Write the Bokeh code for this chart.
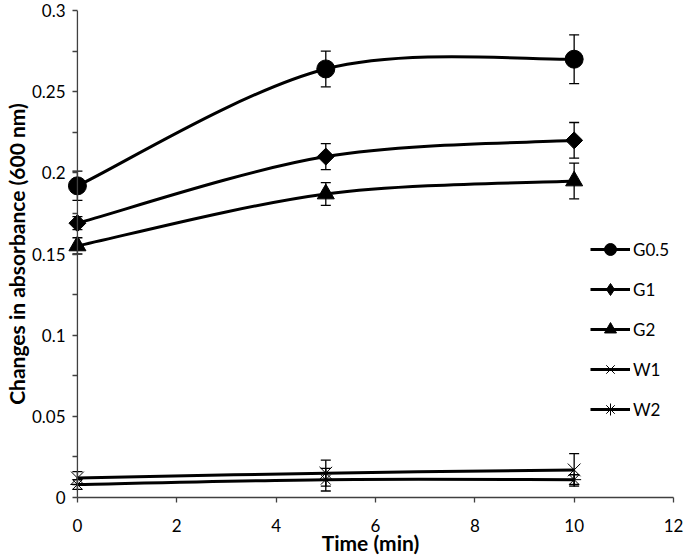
import math
from bokeh.plotting import figure
from bokeh.models import (ColumnDataSource, Whisker, TeeHead, Legend, LegendItem,
                          FixedTicker, Range1d, Span, CDSView, IndexFilter)
from bokeh.embed import file_html
from bokeh.resources import INLINE

# ---- data ----
time = [0, 5, 10]
g05 = [0.192, 0.264, 0.270]
g05_err = [0.009, 0.011, 0.015]
g1 = [0.169, 0.210, 0.220]
g1_err = [0.004, 0.008, 0.011]
g2 = [0.155, 0.187, 0.195]
g2_err = [0.005, 0.007, 0.011]
w1 = [0.012, 0.015, 0.017]
w1_err = [0.004, 0.008, 0.010]
w2 = [0.008, 0.011, 0.011]
w2_err = [0.003, 0.007, 0.003]
names = ["G0.5", "G1", "G2", "W1", "W2"]

x_ticks = [0, 2, 4, 6, 8, 10, 12]
y_ticks = [0, 0.05, 0.1, 0.15, 0.2, 0.25, 0.3]
y_tick_labels = ["0", "0.05", "0.1", "0.15", "0.2", "0.25", "0.3"]
y_minor = [0.025, 0.075, 0.125, 0.175, 0.225, 0.275]
x_title = "Time (min)"
y_title = "Changes in absorbance (600 nm)"

FONT = "Lato"
AX = "#404040"

p = figure(width=685, height=557, output_backend="svg", toolbar_location=None,
           x_range=Range1d(-0.2, 12), y_range=Range1d(0, 0.3),
           min_border_left=66, min_border_right=12, min_border_top=10, min_border_bottom=60)
p.outline_line_color = None
p.xgrid.visible = False
p.ygrid.visible = False
p.background_fill_color = "white"

def smooth(xs, ys):
    # Excel-like smoothed line: Catmull-Rom segments as cubic Beziers
    n = len(xs)
    d = dict(x0=[], y0=[], x1=[], y1=[], cx0=[], cy0=[], cx1=[], cy1=[])
    for i in range(n - 1):
        a = max(i - 1, 0)
        b = min(i + 2, n - 1)
        d["x0"].append(xs[i]); d["y0"].append(ys[i])
        d["x1"].append(xs[i + 1]); d["y1"].append(ys[i + 1])
        d["cx0"].append(xs[i] + (xs[i + 1] - xs[a]) / 6)
        d["cy0"].append(ys[i] + (ys[i + 1] - ys[a]) / 6)
        d["cx1"].append(xs[i + 1] - (xs[b] - xs[i]) / 6)
        d["cy1"].append(ys[i + 1] - (ys[b] - ys[i]) / 6)
    return d

# y axis line at x = 0
p.add_layout(Span(location=0, dimension="height", line_color=AX, line_width=1.3))

series = [
    (names[0], g05, g05_err, "circle", 18, 0.0, "circle"),
    (names[1], g1, g1_err, "square", 12, math.pi / 4, "diamond"),
    (names[2], g2, g2_err, "triangle", 17, 0.0, "triangle"),
    (names[3], w1, w1_err, "x", 18, 0.0, "x"),
    (names[4], w2, w2_err, "asterisk", 14, 0.0, "asterisk"),
]

items = []
for name, vals, err, marker, size, ang, leg_marker in series:
    src = ColumnDataSource(dict(x=time, y=vals,
                                upper=[v + e for v, e in zip(vals, err)],
                                lower=[v - e for v, e in zip(vals, err)]))
    p.bezier(source=ColumnDataSource(smooth(time, vals)), x0="x0", y0="y0", x1="x1", y1="y1",
             cx0="cx0", cy0="cy0", cx1="cx1", cy1="cy1", line_color="black", line_width=3)
    wh = Whisker(base="x", upper="upper", lower="lower", source=src, line_color="black",
                 line_width=1.3,
                 upper_head=TeeHead(size=10, line_color="black", line_width=1.3),
                 lower_head=TeeHead(size=10, line_color="black", line_width=1.3))
    p.add_layout(wh)
    p.scatter("x", "y", source=src, marker=marker, size=size, angle=ang,
              fill_color="black", line_color="black", line_width=1)
    # legend-only swatches (the curve itself is the bezier above)
    lr = p.line("x", "y", source=src, line_color="black", line_width=3,
                view=CDSView(filter=IndexFilter(indices=[0])))
    mr = p.scatter("x", "y", source=src, marker=leg_marker, size=0, fill_color="black",
                   line_color="black", line_width=1,
                   view=CDSView(filter=IndexFilter(indices=[0])))
    items.append(LegendItem(label=name, renderers=[lr, mr]))

legend = Legend(items=items, location=(523, 73), border_line_color=None,
                background_fill_alpha=0, padding=0, margin=0, spacing=10,
                glyph_width=40, glyph_height=30, label_height=30, label_standoff=3,
                label_text_font=FONT, label_text_font_size="17px", label_text_color="black")
p.add_layout(legend)

for ax in (p.xaxis[0], p.yaxis[0]):
    ax.major_tick_line_color = AX
    ax.minor_tick_line_color = AX
    ax.major_tick_line_width = 1.3
    ax.minor_tick_line_width = 1.3
    ax.major_label_text_font = FONT
    ax.major_label_text_font_size = "17px"
    ax.major_label_text_color = "black"
    ax.axis_label_text_font = FONT
    ax.axis_label_text_font_size = "21px"
    ax.axis_label_text_font_style = "bold"
    ax.axis_label_text_color = "black"

p.xaxis.axis_line_color = AX
p.xaxis.axis_line_width = 1.3
p.xaxis.ticker = FixedTicker(ticks=x_ticks, minor_ticks=[])
p.xaxis.major_tick_in = 0
p.xaxis.major_tick_out = 5
p.xaxis.minor_tick_in = 0
p.xaxis.minor_tick_out = 0
p.xaxis.major_label_standoff = 16
p.xaxis.bounds = (0, 12)
p.xaxis.axis_label = x_title
p.xaxis.axis_label_standoff = -5

# y axis sits at the frame edge (x = -0.2); ticks are shifted so they end at x = 0
p.yaxis.axis_line_color = None
p.yaxis.ticker = FixedTicker(ticks=y_ticks, minor_ticks=y_minor)
p.yaxis.major_tick_in = 10
p.yaxis.major_tick_out = -5
p.yaxis.minor_tick_in = 10
p.yaxis.minor_tick_out = -5
p.yaxis.major_label_overrides = {t: l for t, l in zip(y_ticks, y_tick_labels)}
p.yaxis.major_label_standoff = 7
p.yaxis.axis_label = y_title
p.yaxis.axis_label_standoff = 0

open("out.html", "w").write(file_html(p, INLINE))
